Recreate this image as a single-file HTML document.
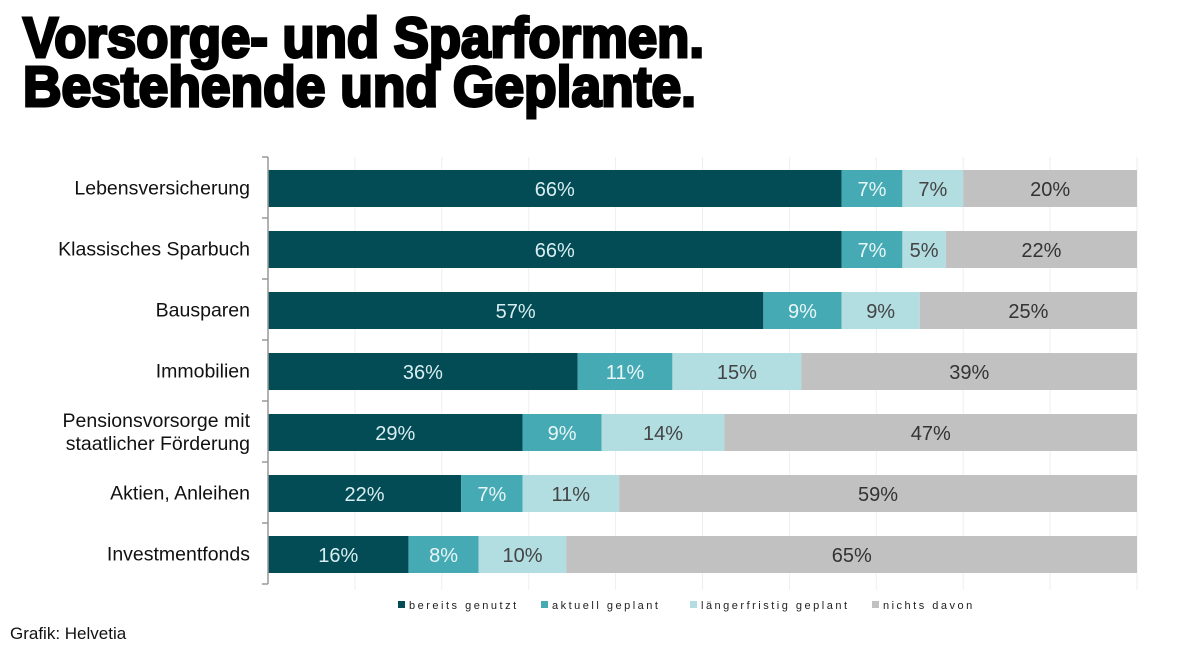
<!DOCTYPE html>
<html><head><meta charset="utf-8"><style>
body{margin:0;background:#fff;width:1200px;height:651px;overflow:hidden}
svg{display:block}
</style></head><body>
<svg id="chart" width="1200" height="651" xmlns="http://www.w3.org/2000/svg" font-family="Liberation Sans, Arial, sans-serif">
<text x="23" y="57" font-size="57" font-weight="bold" stroke="#000" stroke-width="3" textLength="681" lengthAdjust="spacingAndGlyphs">Vorsorge- und Sparformen.</text>
<text x="23" y="106" font-size="57" font-weight="bold" stroke="#000" stroke-width="3" textLength="673" lengthAdjust="spacingAndGlyphs">Bestehende und Geplante.</text>
<g id="grid"></g>
<g id="bars"></g>
<g id="axis"></g>
<g id="legend"></g>
<text x="10" y="639" font-size="17" fill="#111">Grafik: Helvetia</text>
</svg>
<script>
const categories = [["Lebensversicherung"],["Klassisches Sparbuch"],["Bausparen"],["Immobilien"],["Pensionsvorsorge mit","staatlicher Förderung"],["Aktien, Anleihen"],["Investmentfonds"]];
const bereitsGenutzt = [66,66,57,36,29,22,16];
const aktuellGeplant = [7,7,9,11,9,7,8];
const laengerfristigGeplant = [7,5,9,15,14,11,10];
const nichtsDavon = [20,22,25,39,47,59,65];
const seriesNames = ["bereits genutzt","aktuell  geplant","längerfristig geplant","nichts davon"];
const colors = ["#034c56","#46aab4","#b2dde1","#c1c1c1"];
const textColors = ["#d8eef0","#e8f6f7","#444","#333"];

const NS="http://www.w3.org/2000/svg";
const x0=268, x1=1137, yTop=157, pitch=61, barH=37;
const xs = v => x0 + v*(x1-x0)/100;
const yRow = i => yTop + i*pitch;
function mk(tag, attrs, parent){const e=document.createElementNS(NS,tag);for(const k in attrs)e.setAttribute(k,attrs[k]);parent.appendChild(e);return e;}
const grid=document.getElementById('grid'), bars=document.getElementById('bars'), axis=document.getElementById('axis'), legend=document.getElementById('legend');
const n=categories.length;
for(let t=1;t<=10;t++){
  const g=mk('line',{x1:xs(t*10),x2:xs(t*10),y1:yTop,y2:yRow(n)+6,stroke:'#eee','stroke-width':1},grid);
  
  
}
const a=mk('line',{x1:x0,x2:x0,y1:yTop,y2:yRow(n),stroke:'#999','stroke-width':1.5},axis);


for(let i=0;i<=n;i++){
  const tk=mk('line',{x1:x0-6,x2:x0,y1:yRow(i),y2:yRow(i),stroke:'#999','stroke-width':1.5},axis);
  
  
}
const series=[bereitsGenutzt,aktuellGeplant,laengerfristigGeplant,nichtsDavon];
categories.forEach((lines,i)=>{
  const cy=yRow(i)+pitch/2+1;
  const lbl=mk('text',{x:250,y:0,'font-size':19.5,fill:'#111','text-anchor':'end'},axis);
  
  
  lines.forEach((l,j)=>{const ts=mk('tspan',{x:250,y:cy+6+(j-(lines.length-1)/2)*23},lbl);ts.textContent=l;});
  const total=series.reduce((s,arr)=>s+arr[i],0);
  let acc=0;
  series.forEach((s,k)=>{
    const v=s[i];
    const p0=acc/total*100, p1=(acc+v)/total*100;
    const r=mk('rect',{x:xs(p0),y:cy-barH/2,width:xs(p1)-xs(p0),height:barH,fill:colors[k]},bars);
    
    
    const t=mk('text',{x:(xs(p0)+xs(p1))/2,y:cy+7.5,'font-size':20,fill:textColors[k],'text-anchor':'middle','font-weight':'300'},bars);
    
    
    t.textContent=v+'%';
    acc+=v;
  });
});
const lx=[398,541,690,872];
seriesNames.forEach((nm,k)=>{
  const sq=mk('rect',{x:lx[k],y:601,width:7,height:7,fill:colors[k]},legend);
  
  
  const t=mk('text',{x:lx[k]+11,y:609,'font-size':11,fill:'#222','letter-spacing':'2.5'},legend);
  
  
  t.textContent=nm;
});
</script>
</body></html>
